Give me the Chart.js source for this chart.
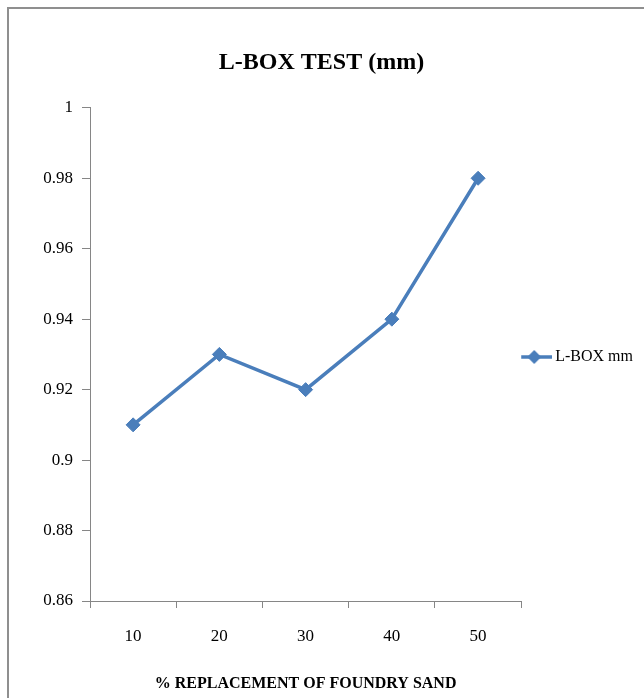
<!DOCTYPE html>
<html>
<head>
<meta charset="utf-8">
<script src="https://cdn.jsdelivr.net/npm/chart.js@4/dist/chart.umd.min.js"></script>
<style>
  body { margin: 0; background: #fff; }
  canvas { display: block; }
</style>
</head>
<body>
<canvas id="lboxChart" width="644" height="698"></canvas>
<script>
// chart data
const categories = ['10', '20', '30', '40', '50'];
const lboxValues = [0.91, 0.93, 0.92, 0.94, 0.98];
const yTicks = [0.86, 0.88, 0.9, 0.92, 0.94, 0.96, 0.98, 1];

const blue = '#4a7ebb';
const axisGray = '#868686';
const serif = '"Liberation Serif", "Times New Roman", serif';

// legend symbol: line with a diamond in the middle
function legendSymbol() {
    const c = document.createElement('canvas');
    c.width = 36;
    c.height = 16;
    const g = c.getContext('2d');
    g.strokeStyle = blue;
    g.lineWidth = 3.5;
    g.beginPath();
    g.moveTo(0, 8);
    g.lineTo(36, 8);
    g.stroke();
    g.fillStyle = blue;
    g.beginPath();
    g.moveTo(18, 1);
    g.lineTo(25, 8);
    g.lineTo(18, 15);
    g.lineTo(11, 8);
    g.closePath();
    g.fill();
    return c;
}

// grey frame at the top and left edges, like the cropped original
const framePlugin = {
    id: 'frame',
    beforeDraw(chart) {
        const ctx = chart.ctx;
        ctx.save();
        ctx.fillStyle = '#fff';
        ctx.fillRect(0, 0, chart.width, chart.height);
        ctx.strokeStyle = '#8f8f8f';
        ctx.lineWidth = 2;
        ctx.beginPath();
        ctx.moveTo(8, chart.height);
        ctx.lineTo(8, 8);
        ctx.lineTo(chart.width, 8);
        ctx.stroke();
        ctx.restore();
    }
};

new Chart(document.getElementById('lboxChart'), {
    type: 'line',
    data: {
        labels: categories,
        datasets: [{
            label: 'L-BOX mm',
            data: lboxValues,
            borderColor: blue,
            backgroundColor: blue,
            borderWidth: 3.5,
            pointStyle: 'rectRot',
            pointRadius: 7,
            pointBorderWidth: 1,
            pointBackgroundColor: blue,
            pointBorderColor: blue,
            tension: 0
        }]
    },
    options: {
        responsive: false,
        animation: false,
        layout: { padding: { left: 0, right: 1, top: 0, bottom: 0 } },
        plugins: {
            title: {
                display: true,
                text: 'L-BOX TEST (mm)',
                color: '#000',
                font: { family: serif, size: 24, weight: 'bold' },
                padding: { top: 48, bottom: 31 }
            },
            legend: {
                position: 'right',
                title: {
                    // empty title only nudges the entry down a little
                    display: true,
                    text: ' ',
                    font: { size: 10 },
                    padding: 2
                },
                labels: {
                    usePointStyle: true,
                    pointStyle: legendSymbol(),
                    pointStyleWidth: 26,
                    padding: 0,
                    color: '#000',
                    font: { family: serif, size: 16 }
                }
            },
            tooltip: { enabled: false }
        },
        scales: {
            x: {
                offset: true,
                grid: {
                    offset: true,
                    drawOnChartArea: false,
                    color: axisGray,
                    tickLength: 7
                },
                border: { color: axisGray, width: 1 },
                ticks: {
                    color: '#000',
                    padding: 18,
                    font: { family: serif, size: 17 }
                },
                title: {
                    display: true,
                    text: '% REPLACEMENT OF FOUNDRY SAND',
                    color: '#000',
                    font: { family: serif, size: 16, weight: 'bold' },
                    padding: { top: 0, bottom: 5 }
                },
                afterFit(scale) { scale.height = 97; }
            },
            y: {
                min: 0.86,
                max: 1,
                afterBuildTicks(scale) {
                    scale.ticks = yTicks.map(v => ({ value: v }));
                },
                grid: {
                    drawOnChartArea: false,
                    color: axisGray,
                    tickLength: 8
                },
                border: { color: axisGray, width: 1 },
                ticks: {
                    color: '#000',
                    padding: 9,
                    font: { family: serif, size: 17 },
                    callback: v => String(+Number(v).toFixed(2))
                },
                afterFit(scale) { scale.width = 90; }
            }
        }
    },
    plugins: [framePlugin]
});
</script>
</body>
</html>
